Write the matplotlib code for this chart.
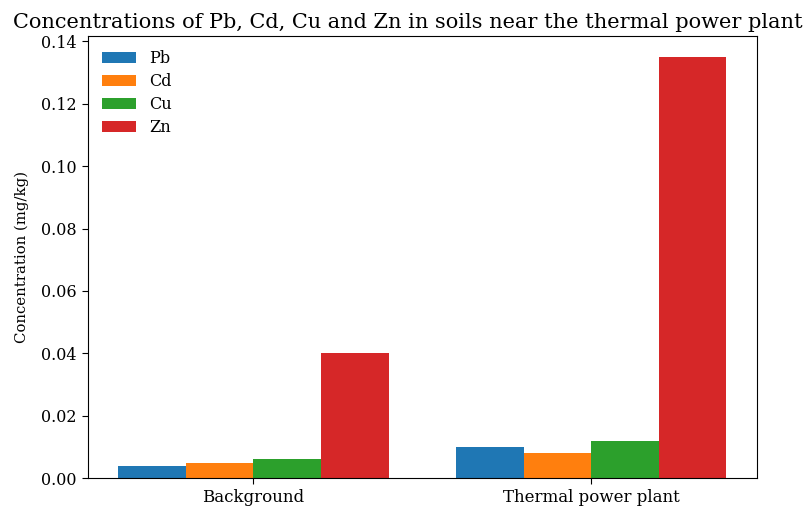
import numpy as np
import matplotlib
matplotlib.use("Agg")
import matplotlib.pyplot as plt

plt.rcParams['font.family'] = ['DejaVu Serif']

sites = ["Background", "Thermal power plant"]
metals = ["Pb", "Cd", "Cu", "Zn"]
pb = [0.004, 0.010]
cd = [0.005, 0.008]
cu = [0.006, 0.012]
zn = [0.040, 0.135]
colors = ["#1f77b4", "#ff7f0e", "#2ca02c", "#d62728"]

x = np.arange(len(sites))
width = 0.2

fig = plt.figure(figsize=(8.06, 5.07), dpi=100)
ax = fig.add_axes([0.109, 0.057, 0.83, 0.872])

for i, (name, vals) in enumerate(zip(metals, [pb, cd, cu, zn])):
    ax.bar(x + (i - 1.5) * width, vals, width, label=name, color=colors[i])

ax.set_xticks(x)
ax.set_xticklabels(sites)
ax.tick_params(axis="y", labelsize=11.5, length=4.5)
ax.tick_params(axis="x", labelsize=12, length=4.5)
ax.set_ylabel("Concentration (mg/kg)", fontsize=10.7, labelpad=9)
ax.set_title("Concentrations of Pb, Cd, Cu and Zn in soils near the thermal power plant",
             fontsize=15, x=0.478)
ax.legend(loc="upper left", frameon=False, fontsize=11.6, handlelength=2.1,
          labelspacing=0.36)

fig.savefig("out.png", dpi=100)
